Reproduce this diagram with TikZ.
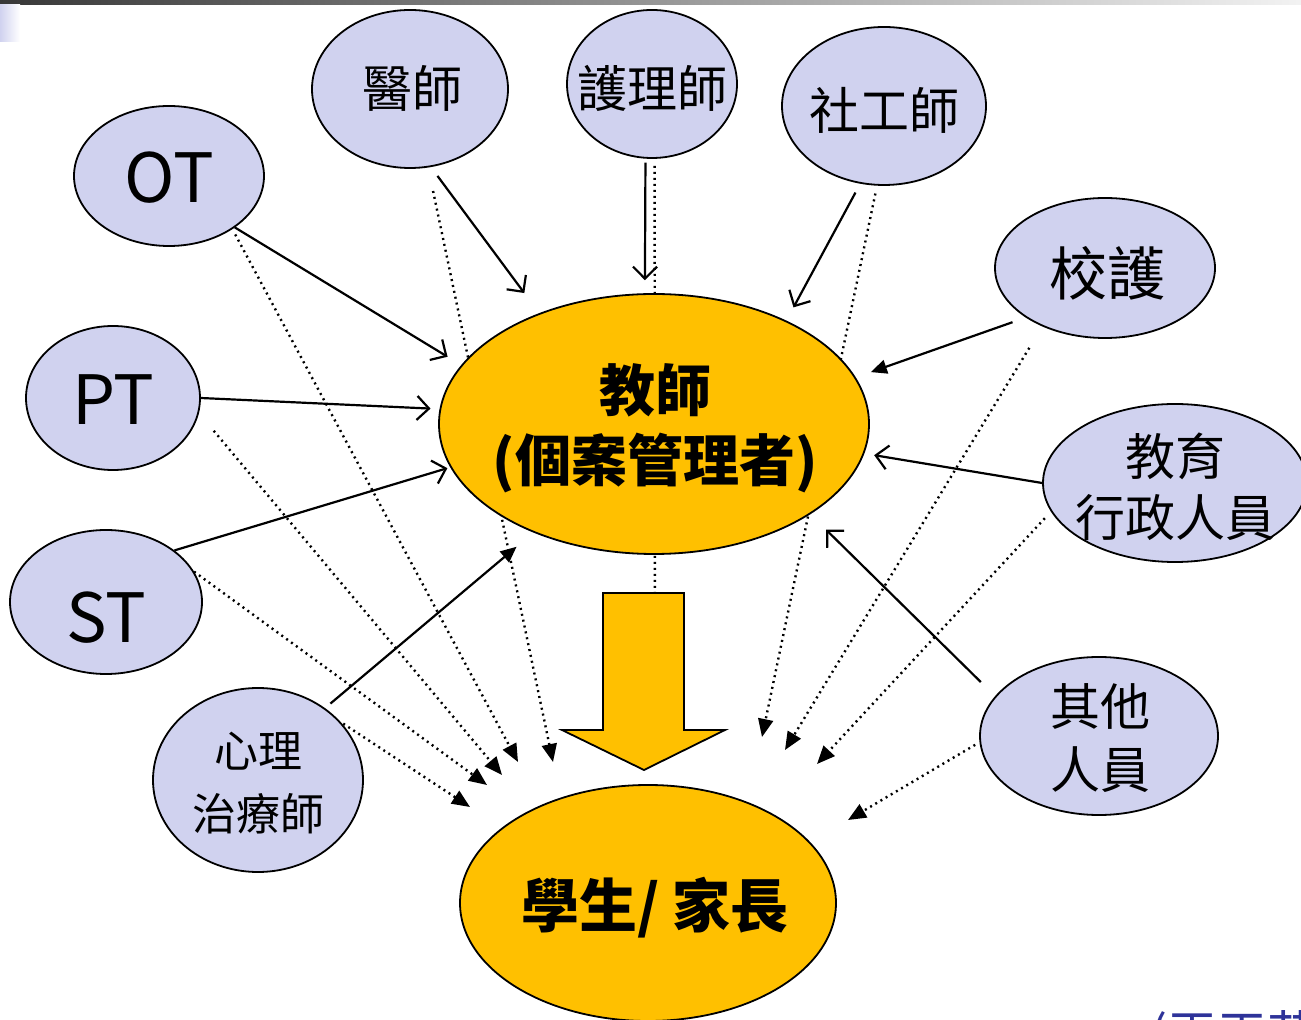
\documentclass[tikz,border=0pt]{standalone}
\usepackage{fontspec}
\newfontfamily\cjk{Noto Sans CJK TC}
\usetikzlibrary{shapes.geometric,arrows.meta,backgrounds}
\newlength{\du}
\setlength{\du}{0.5pt}
\definecolor{bubblecolor}{rgb}{0.815686, 0.823529, 0.937255}
\definecolor{goldcolor}{rgb}{1.000000, 0.752941, 0.000000}
\definecolor{citecolor}{rgb}{0.180392, 0.200000, 0.600000}
% tip sizes in pt (1\du = 0.5pt)
\tikzset{
  bubble/.style={ellipse, draw=black, fill=bubblecolor, line width=1.8\du, inner sep=0pt},
  hub/.style={bubble, fill=goldcolor},
  link/.style={line width=2.2\du, -{Straight Barb[length=6pt,width=12pt]}},
  linkfill/.style={line width=2.2\du, -{Triangle[length=8pt,width=7pt]}},
  hint/.style={line width=2.4\du, dash pattern=on 1pt off 2pt, -{Triangle[length=9pt,width=7.5pt]}},
  bubbletext/.style={inner sep=0pt, align=center},
}

\begin{document}
\begin{tikzpicture}
\pgftransformxscale{1.000000}
\pgftransformyscale{-1.000000}
\useasboundingbox (0\du,0\du) rectangle (1301\du,1020\du);
% slide decoration
\shade[left color=black!78, right color=black!5] (0\du,0\du) rectangle (1301\du,5\du);
\shade[left color=bubblecolor, right color=white] (0\du,5\du) rectangle (20\du,42\du);
% bubbles
\node[bubble, minimum width=190\du, minimum height=140\du] (ot) at (169\du,176\du) {};
\node[bubble, minimum width=196\du, minimum height=158\du] (doc) at (410\du,89\du) {};
\node[bubble, minimum width=170\du, minimum height=148\du] (nurse) at (652\du,84\du) {};
\node[bubble, minimum width=204\du, minimum height=158\du] (social) at (884\du,106\du) {};
\node[bubble, minimum width=220\du, minimum height=140\du] (school) at (1105\du,268\du) {};
\node[bubble, minimum width=174\du, minimum height=144\du] (pt) at (113\du,398\du) {};
\node[bubble, minimum width=192\du, minimum height=144\du] (st) at (106\du,602\du) {};
\node[bubble, minimum width=210\du, minimum height=184\du] (psy) at (258\du,780\du) {};
\node[bubble, minimum width=264\du, minimum height=158\du] (admin) at (1175\du,483\du) {};
\node[bubble, minimum width=238\du, minimum height=158\du] (other) at (1099\du,736\du) {};
\node[hub, minimum width=430\du, minimum height=260\du] (teacher) at (654\du,424\du) {};
\node[hub, minimum width=376\du, minimum height=236\du] (student) at (648\du,903\du) {};
% dotted links to the student, behind the bubbles
\coordinate (ot-end) at (518\du,762\du);
\coordinate (doc-end) at (553\du,762\du);
\coordinate (pt-end) at (502\du,775\du);
\coordinate (st-end) at (487\du,785\du);
\coordinate (psy-end) at (470\du,807\du);
\coordinate (nurse-end) at (655\du,720\du);
\coordinate (social-end) at (762\du,737\du);
\coordinate (school-end) at (785\du,750\du);
\coordinate (admin-end) at (817\du,764\du);
\coordinate (other-end) at (848\du,820\du);
\begin{pgfonlayer}{background}
\draw[hint, shorten <=6\du] (ot.-40) -- (ot-end);
\draw[hint, shorten <=24\du] (doc.-77) -- (doc-end);
\draw[hint, shorten <=23\du] (pt.-10.5) -- (pt-end);
\draw[hint] (st.19) -- (st-end);
\draw[hint, shorten <=3\du] (psy.35.5) -- (psy-end);
\draw[hint, shorten <=7\du] (nurse.-88) -- (nurse-end);
\draw[hint, shorten <=8\du] (social.-95) -- (social-end);
\draw[hint, shorten <=25\du] (school.-137) -- (school-end);
\draw[hint, shorten <=9\du] (admin.-167) -- (admin-end);
\draw[hint, shorten <=5\du] (other.-177) -- (other-end);
\end{pgfonlayer}
% block arrow down to the student
\draw[line width=1.8\du, fill=goldcolor, line join=miter] (603\du,593\du) -- (684\du,593\du) -- (684\du,730\du) -- (725\du,730\du) -- (644\du,770\du) -- (562\du,730\du) -- (603\du,730\du) -- cycle;
% solid links to the teacher
\draw[link, shorten >=16\du] (ot.-38) -- (teacher.163);
\draw[link, shorten <=11\du, shorten >=25\du] (doc.-75) -- (teacher.136);
\draw[link, shorten <=4\du, shorten >=13\du] (nurse.-95) -- (teacher.94);
\draw[link, shorten <=10\du, shorten >=15\du] (social.-107) -- (teacher.38);
\draw[linkfill, shorten <=14\du, shorten >=16\du] (school.-148) -- (teacher.13);
\draw[link, shorten >=9\du] (pt.0) -- (teacher.176);
\draw[link, shorten >=3\du] (st.37) -- (teacher.-168);
\draw[linkfill, shorten <=7\du, shorten >=22\du] (psy.47) -- (teacher.-138);
\draw[link, shorten >=10\du] (admin.180) -- (teacher.-8);
\draw[link, shorten <=20\du, shorten >=22\du] (other.159) -- (teacher.-30);
% texts
\node[bubbletext, font=\cjk\fontsize{34}{40}\selectfont] (ot-txt) at (169\du,178\du) {OT};
\node[bubbletext, font=\cjk\fontsize{34}{40}\selectfont] (pt-txt) at (113\du,400\du) {PT};
\node[bubbletext, font=\cjk\fontsize{34}{40}\selectfont] (st-txt) at (106\du,618\du) {ST};
\node[bubbletext, font=\cjk\fontsize{25}{31}\selectfont] (doc-txt) at (412\du,88\du) {醫師};
\node[bubbletext, font=\cjk\fontsize{25}{31}\selectfont] (nurse-txt) at (652\du,88\du) {護理師};
\node[bubbletext, font=\cjk\fontsize{25}{31}\selectfont] (social-txt) at (884\du,110\du) {社工師};
\node[bubbletext, font=\cjk\fontsize{29}{35}\selectfont] (school-txt) at (1107\du,273\du) {校護};
\node[bubbletext, font=\cjk\fontsize{22}{31.5}\selectfont] (psy-txt) at (258\du,783\du) {心理\\治療師};
\node[bubbletext, font=\cjk\fontsize{25}{30.5}\selectfont] (admin-txt) at (1175\du,487\du) {教育\\行政人員};
\node[bubbletext, font=\cjk\fontsize{25}{31.5}\selectfont] (other-txt) at (1100\du,738\du) {其他\\人員};
\node[bubbletext, font=\cjk\bfseries\fontsize{28}{35}\selectfont] (teacher-txt) at (655\du,428\du) {教師\\(個案管理者)};
\node[bubbletext, font=\cjk\bfseries\fontsize{29}{35}\selectfont] (student-txt) at (655\du,908\du) {學生/ 家長};
% source, cut by the page edge
\node[inner sep=0pt, anchor=base west, text=citecolor, font=\cjk\fontsize{25}{30}\selectfont] (cite) at (1150\du,1052\du) {(王天苗};
\end{tikzpicture}
\end{document}
